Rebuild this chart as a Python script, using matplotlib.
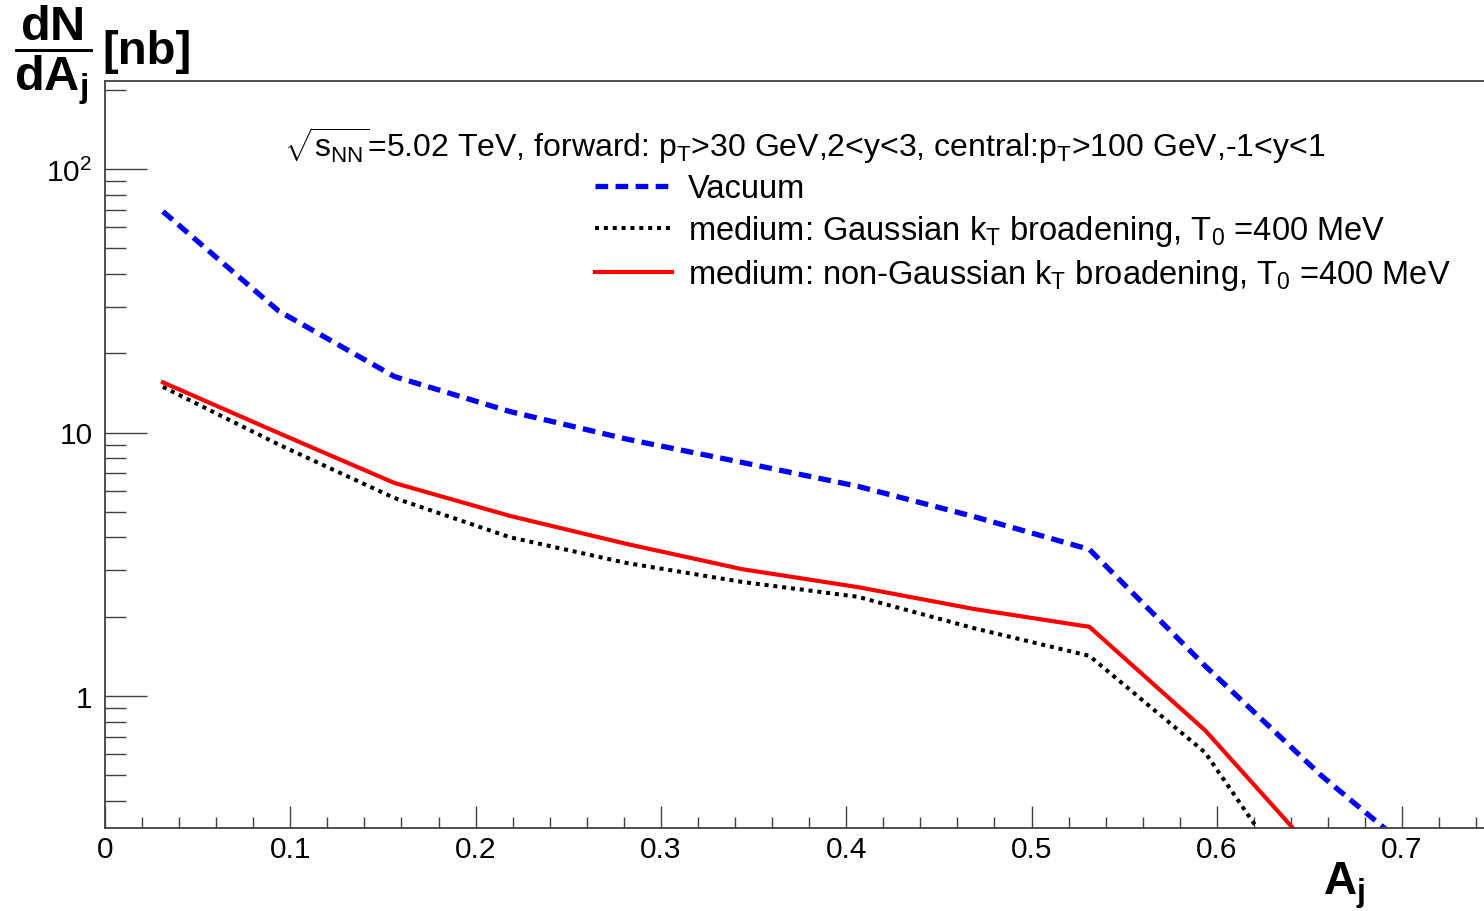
"""Dijet asymmetry A_j distribution, vacuum vs. medium (ROOT-style log plot)."""

import matplotlib
matplotlib.use("Agg")
import matplotlib.pyplot as plt
from matplotlib.ticker import FixedLocator, FixedFormatter, LogLocator, NullFormatter

# bin centres of the A_j histogram
aj_centers = [0.03125, 0.09375, 0.15625, 0.21875, 0.28125, 0.34375,
              0.40625, 0.46875, 0.53125, 0.59375, 0.65625, 0.71875]
vacuum = [69.0, 28.9, 16.3, 12.0, 9.45, 7.7, 6.25, 4.8, 3.6, 1.3, 0.50, 0.215]
medium_gauss = [14.9, 9.0, 5.64, 4.0, 3.2, 2.71, 2.38, 1.81, 1.42, 0.61, 0.14]
medium_non_gauss = [15.5, 9.95, 6.43, 4.82, 3.78, 3.03, 2.59, 2.14, 1.83, 0.74, 0.24]

y_ticks = [1, 10, 100]
y_tick_labels = ["1", "10", "$10^{2}$"]
x_ticks = [0, 0.1, 0.2, 0.3, 0.4, 0.5, 0.6, 0.7]
x_tick_labels = ["0", "0.1", "0.2", "0.3", "0.4", "0.5", "0.6", "0.7"]

legend_labels = ["Vacuum",
                 "medium: Gaussian k$_{T}$ broadening, T$_{0}$ =400 MeV",
                 "medium: non-Gaussian k$_{T}$ broadening, T$_{0}$ =400 MeV"]
header = (r"$\sqrt{s_{NN}}$=5.02 TeV, forward: p$_{T}$>30 GeV,2<y<3, "
          r"central:p$_{T}$>100 GeV,-1<y<1")

plt.rcParams["font.family"] = ["Liberation Sans", "DejaVu Sans"]
plt.rcParams["mathtext.fontset"] = "custom"
plt.rcParams["mathtext.rm"] = "Liberation Sans"
plt.rcParams["mathtext.it"] = "Liberation Sans"
plt.rcParams["mathtext.bf"] = "Liberation Sans:bold"

W, H = 1484, 912
fig = plt.figure(figsize=(W / 100, H / 100), dpi=100)
# frame: left edge at x=105px, top 82px, bottom 829px; right side runs off the picture
ax = fig.add_axes([105 / W, (H - 829) / H, 0.75 * 1853 / W, (829 - 82) / H])

axis_col = "#404040"
l_vac, = ax.plot(aj_centers, vacuum, color="#0000ff", lw=3.8,
                 linestyle=(0, (2.4, 1.4)), label=legend_labels[0])
l_gau, = ax.plot(aj_centers[:len(medium_gauss)], medium_gauss, color="black", lw=2.9,
                 linestyle=(0, (1.0, 1.2)), label=legend_labels[1])
l_non, = ax.plot(aj_centers[:len(medium_non_gauss)], medium_non_gauss, color="#ff0000",
                 lw=3.0, label=legend_labels[2])

ax.set_yscale("log")
ax.set_xlim(0, 0.75)
ax.set_ylim(10 ** (-132 / 263.5), 10 ** (615 / 263.5))

ax.yaxis.set_major_locator(FixedLocator(y_ticks))
ax.yaxis.set_major_formatter(FixedFormatter(y_tick_labels))
ax.yaxis.set_minor_locator(LogLocator(base=10, subs=[2, 3, 4, 5, 6, 7, 8, 9], numticks=20))
ax.yaxis.set_minor_formatter(NullFormatter())
ax.xaxis.set_major_locator(FixedLocator(x_ticks))
ax.xaxis.set_major_formatter(FixedFormatter(x_tick_labels))
ax.xaxis.set_minor_locator(FixedLocator([i * 0.02 for i in range(38)]))

ax.tick_params(axis="y", which="major", direction="in", length=30, width=1.0,
               color=axis_col, labelsize=21.5, pad=9)
ax.tick_params(axis="y", which="minor", direction="in", length=15, width=1.0, color=axis_col)
ax.tick_params(axis="x", which="major", direction="in", length=16, width=1.0,
               color=axis_col, labelsize=21.5, pad=5)
ax.tick_params(axis="x", which="minor", direction="in", length=8, width=1.0, color=axis_col)

for side in ["left", "bottom", "top"]:
    ax.spines[side].set_color(axis_col)
    ax.spines[side].set_linewidth(1.3)
ax.spines["right"].set_visible(False)

fig.text(284 / W, 1 - 157 / H, header, fontsize=23, va="baseline", ha="left")

leg = ax.legend(handles=[l_vac, l_gau, l_non], loc="upper left", frameon=False,
                fontsize=23.5, handlelength=2.36, handletextpad=0.5, labelspacing=0.28,
                borderpad=0, borderaxespad=0,
                bbox_to_anchor=(595 / W, 1 - 174 / H), bbox_transform=fig.transFigure)

# axis titles, ROOT puts them at the ends of the axes
fig.text(53 / W, 1 - 55 / H, r"$\mathbf{\dfrac{dN}{dA_{j}}}$", fontsize=35,
         ha="center", va="center")
fig.text(102 / W, 1 - 64 / H, "[nb]", fontsize=34, fontweight="bold",
         ha="left", va="baseline")
fig.text(1365 / W, 1 - 895 / H, r"$\mathbf{A_{j}}$", fontsize=33,
         ha="right", va="baseline")

fig.savefig("out.png", dpi=100)
